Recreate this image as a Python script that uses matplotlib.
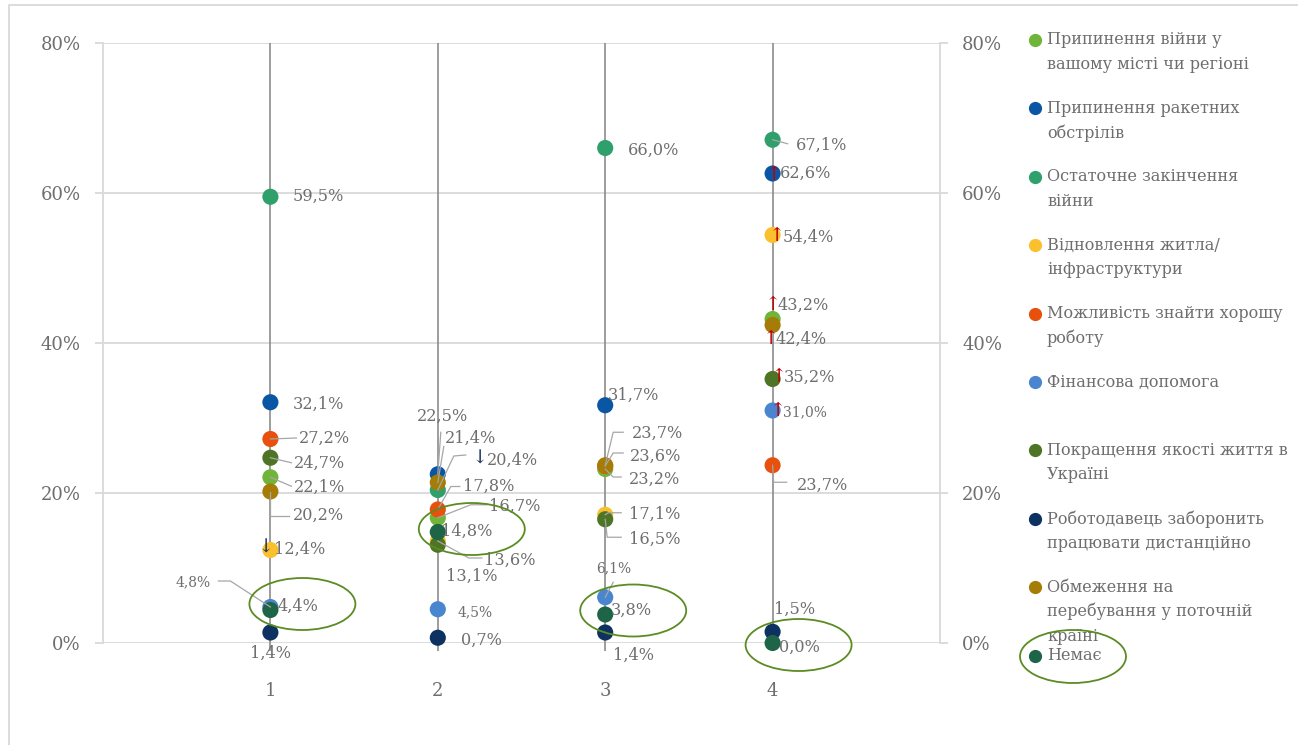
import matplotlib
matplotlib.use("Agg")
import matplotlib.pyplot as plt
from matplotlib.lines import Line2D
from matplotlib.patches import Ellipse
from matplotlib.transforms import IdentityTransform
from matplotlib.ticker import FuncFormatter

plt.rcParams['font.family'] = ['DejaVu Serif', 'DejaVu Sans']

# ---------------- data ----------------
categories = [1, 2, 3, 4]
series_names = [
    "Припинення війни у\nвашому місті чи регіоні",
    "Припинення ракетних\nобстрілів",
    "Остаточне закінчення\nвійни",
    "Відновлення житла/\nінфраструктури",
    "Можливість знайти хорошу\nроботу",
    "Фінансова допомога",
    "Покращення якості життя в\nУкраїні",
    "Роботодавець заборонить\nпрацювати дистанційно",
    "Обмеження на\nперебування у поточній\nкраїні",
    "Немає",
]
stop_local_war = [22.1, 16.7, 23.2, 43.2]
stop_missiles = [32.1, 22.5, 31.7, 62.6]
end_of_war = [59.5, 20.4, 66.0, 67.1]
housing = [12.4, 13.6, 17.1, 54.4]
good_job = [27.2, 17.8, 23.6, 23.7]
financial_aid = [4.8, 4.5, 6.1, 31.0]
life_quality = [24.7, 13.1, 16.5, 35.2]
remote_ban = [1.4, 0.7, 1.4, 1.5]
stay_limits = [20.2, 21.4, 23.7, 42.4]
nothing = [4.4, 14.8, 3.8, 0.0]
series_values = [stop_local_war, stop_missiles, end_of_war, housing, good_job,
                 financial_aid, life_quality, remote_ban, stay_limits, nothing]
y_ticks = [0, 20, 40, 60, 80]

# ---------------- styles ----------------
colors = ['#70B53A', '#0B56A4', '#2FA06C', '#FBC02D', '#E8500E',
          '#4A85CF', '#4E7526', '#0D3160', '#A57C06', '#1E6446']
TXT = '#6E6E6E'
GRID = '#D9D9D9'
LEAD = '#A6A6A6'
ELL = '#5B8C22'
W, H = 1298, 745

fig = plt.figure(figsize=(W / 100, H / 100), dpi=100)
ax = fig.add_axes([103 / W, 102 / H, 837 / W, 600 / H])
ax.set_xlim(0, 5)
ax.set_ylim(0, 80)

# grid & axes
ax.set_yticks(y_ticks)
ax.yaxis.set_major_formatter(FuncFormatter(lambda v, p: f"{v:.0f}%"))
ax.grid(axis='y', color=GRID, lw=1.3)
ax.set_axisbelow(True)
for s in ['top', 'bottom']:
    ax.spines[s].set_visible(False)
for s in ['left', 'right']:
    ax.spines[s].set_color(GRID)
    ax.spines[s].set_linewidth(1.3)
ax.tick_params(axis='y', which='both', left=True, right=True, labelleft=True,
               labelright=True, length=6, width=1.3, color=GRID,
               labelsize=13, labelcolor=TXT, pad=10)
ax.set_xticks(categories)
ax.set_xticklabels([str(c) for c in categories])
ax.tick_params(axis='x', length=0, labelsize=13, labelcolor=TXT, pad=28)

# vertical category lines
ax.vlines(categories, -1, 80, color='#8C8C8C', lw=1.2, zorder=1, clip_on=False)

# points
for i, vals in enumerate(series_values):
    ax.scatter(categories, vals, s=135, color=colors[i], zorder=3 + i * 0.01,
               edgecolors='none', clip_on=False)

# ---------------- data labels ----------------
# (series, category) -> (dx, dy) screen-pixel offset of label's left/middle
label_off = {
    (2, 0): (22, 0), (1, 0): (22, 2), (4, 0): (28, -1), (6, 0): (23, 6),
    (0, 0): (23, 10), (8, 0): (22, 24), (3, 0): (4, -1), (5, 0): (-60, -25),
    (9, 0): (7, -4), (7, 0): (-20, 21),
    (1, 1): (-21, -58), (8, 1): (7, -44), (2, 1): (49, -30), (4, 1): (25, -23),
    (0, 1): (51, -11), (9, 1): (3, -1), (3, 1): (46, 19), (6, 1): (8, 32),
    (5, 1): (20, 3), (7, 1): (23, 3),
    (2, 2): (23, 2), (1, 2): (3, -10), (8, 2): (27, -32), (4, 2): (25, -10),
    (0, 2): (24, 10), (3, 2): (24, 0), (6, 2): (24, 20), (5, 2): (-9, -29),
    (9, 2): (6, -4), (7, 2): (8, 23),
    (2, 3): (23, 6), (1, 3): (7, 0), (3, 3): (10, 2), (0, 3): (5, -14),
    (8, 3): (3, 14), (6, 3): (11, -2), (5, 3): (10, 2), (4, 3): (24, 20),
    (7, 3): (1, -22), (9, 3): (6, 4),
}
right_aligned = {(5, 0)}
small = {(5, 0), (5, 1), (5, 2), (5, 3)}
leaders = {
    (4, 0): [(0, 0), (26, -1)],
    (6, 0): [(0, 0), (21, 5)],
    (0, 0): [(0, 0), (21, 9)],
    (8, 0): [(0, 0), (0, 24), (19, 24)],
    (5, 0): [(0, 0), (-40, -26), (-52, -26)],
    (1, 1): [(0, 0), (3, -42)],
    (8, 1): [(0, 0), (6, -36)],
    (2, 1): [(0, 0), (16, -34), (28, -35)],
    (4, 1): [(0, 0), (13, -23), (22, -23)],
    (0, 1): [(0, 0), (33, -13), (49, -13)],
    (3, 1): [(0, 0), (31, 17), (44, 17)],
    (8, 2): [(0, 0), (8, -33), (18, -33)],
    (4, 2): [(0, 0), (8, -13), (18, -13)],
    (0, 2): [(0, 0), (8, 8), (16, 8)],
    (3, 2): [(0, 0), (3, -2), (16, -2)],
    (6, 2): [(0, 0), (2, 18), (16, 18)],
    (5, 2): [(0, 0), (8, -15)],
    (2, 3): [(0, 0), (15, 4)],
    (4, 3): [(0, 0), (1, 17), (14, 17)],
}
# (series, category) -> (arrow, colour, dx, dy)
arrows = {
    (3, 0): ('↓', '#203864', -4, -2),
    (2, 1): ('↓', '#203864', 42, -31),
    (1, 3): ('↑', '#C00000', 1, 1),
    (3, 3): ('↑', '#C00000', 4, 1),
    (0, 3): ('↑', '#C00000', 0, -14),
    (8, 3): ('↑', '#C00000', -2, 14),
    (6, 3): ('↑', '#C00000', 6, -2),
    (5, 3): ('↑', '#C00000', 5, 1),
}


def disp(x, v, dx=0, dy=0):
    X, Y = ax.transData.transform((x, v))
    return X + dx, Y - dy


for i, vals in enumerate(series_values):
    for j, (c, v) in enumerate(zip(categories, vals)):
        key = (i, j)
        if key in leaders:
            pts = [disp(c, v, a, b) for a, b in leaders[key]]
            fig.add_artist(Line2D([p[0] for p in pts], [p[1] for p in pts],
                                  color=LEAD, lw=0.9, transform=IdentityTransform(),
                                  zorder=2.5))
        dx, dy = label_off[key]
        txt = f"{v:.1f}".replace('.', ',') + '%'
        ax.annotate(txt, xy=(c, v), xytext=(dx, -dy), textcoords='offset pixels',
                    ha='right' if key in right_aligned else 'left', va='center',
                    fontsize=10 if key in small else 11.6, color=TXT,
                    zorder=4, annotation_clip=False)
        if key in arrows:
            a, col, adx, ady = arrows[key]
            ax.annotate(a, xy=(c, v), xytext=(adx, -ady), textcoords='offset pixels',
                        ha='center', va='center', fontsize=14, color=col,
                        zorder=5, annotation_clip=False)

# ellipses highlighting "Немає"
ell_off = [(32, -6), (34, -3), (28, -4), (26, 2)]
for j, (c, v) in enumerate(zip(categories, nothing)):
    cx, cy = disp(c, v, *ell_off[j])
    fig.add_artist(Ellipse((cx, cy), 106, 52, fill=False, edgecolor=ELL, lw=1.3,
                           transform=IdentityTransform(), zorder=6))

# ---------------- legend (manual) ----------------
leg_top, leg_step, line_step = 40, 68.4, 24.5
for i, name in enumerate(series_names):
    y0 = leg_top + i * leg_step
    fig.add_artist(Line2D([1035], [H - y0], marker='o', ms=8.5, color=colors[i],
                          lw=0, transform=IdentityTransform()))
    for k, line in enumerate(name.split('\n')):
        fig.text(1047 / W, 1 - (y0 + k * line_step) / H, line, ha='left',
                 va='center', fontsize=11.6, color=TXT)
fig.add_artist(Ellipse((1073, H - 656.5), 106, 53, fill=False, edgecolor=ELL,
                       lw=1.3, transform=IdentityTransform(), zorder=6))

# outer chart border
fig.add_artist(Line2D([9, 9, W + 5], [-5, H - 5, H - 5], color=GRID, lw=1.3,
                      transform=IdentityTransform()))

fig.savefig('out.png', dpi=100)
